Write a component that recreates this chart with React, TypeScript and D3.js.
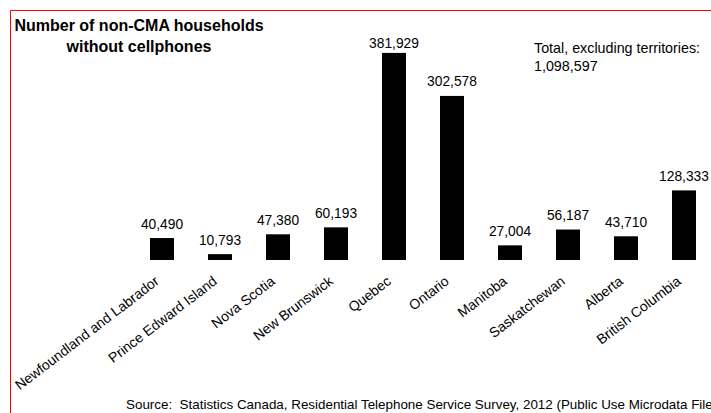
import React from "react";
import * as d3 from "d3";

const provinces: string[] = [
  "Newfoundland and Labrador",
  "Prince Edward Island",
  "Nova Scotia",
  "New Brunswick",
  "Quebec",
  "Ontario",
  "Manitoba",
  "Saskatchewan",
  "Alberta",
  "British Columbia",
  "",
];
const households: number[] = [40490, 10793, 47380, 60193, 381929, 302578, 27004, 56187, 43710, 128333, 0];
const titleLines: string[] = ["Number of non-CMA households", "without cellphones"];
const totalLines: string[] = ["Total, excluding territories:", "1,098,597"];
const sourceText = "Source:  Statistics Canada, Residential Telephone Service Survey, 2012 (Public Use Microdata File)";

const W = 711;
const H = 413;
const FONT = "'Liberation Sans', Arial, Helvetica, sans-serif";

export default function App() {
  const band = d3.scaleBand<number>().domain(d3.range(provinces.length)).range([133, 771]);
  const barW = 24;
  const y = d3.scaleLinear().domain([0, 450000]).range([260, 16]);
  const fmt = d3.format(",");

  return (
    <svg width={W} height={H} style={{ position: "absolute", left: 0, top: 0, display: "block", background: "#fff" }} fontFamily={FONT}>
      <rect x={0} y={0} width={W} height={H} fill="#fff" />
      <line x1={10.5} y1={10.5} x2={W} y2={10.5} stroke="#ff0000" strokeWidth={1} />
      <line x1={10.5} y1={10.5} x2={10.5} y2={H} stroke="#ff0000" strokeWidth={1} />

      <text x={139} y={31} textAnchor="middle" fontSize={16} fontWeight="bold" fill="#000">
        <tspan x={139}>{titleLines[0]}</tspan>
        <tspan x={139} dy={21}>{titleLines[1]}</tspan>
      </text>

      <text x={534} y={53} fontSize={14.3} fill="#000">
        <tspan x={534}>{totalLines[0]}</tspan>
        <tspan x={534} dy={17.5}>{totalLines[1]}</tspan>
      </text>

      {households.map((v, i) => {
        if (!provinces[i]) return null;
        const cx = (band(i) as number) + band.bandwidth() / 2;
        const top = y(v);
        const labelY = Math.max(top - 9.5, 48);
        return (
          <g key={i}>
            <rect x={cx - barW / 2} y={top} width={barW} height={y(0) - top} fill="#000" />
            <text x={cx} y={labelY} textAnchor="middle" fontSize={13.8} fill="#000">{fmt(v)}</text>
            <text
              transform={`translate(${cx - 2},${y(0) + 23}) rotate(-37.5)`}
              textAnchor="end"
              fontSize={14}
              fill="#000"
            >
              {provinces[i]}
            </text>
          </g>
        );
      })}

      <text x={126} y={409} fontSize={13.4} fill="#000" style={{ whiteSpace: "pre" }}>{sourceText}</text>
    </svg>
  );
}
